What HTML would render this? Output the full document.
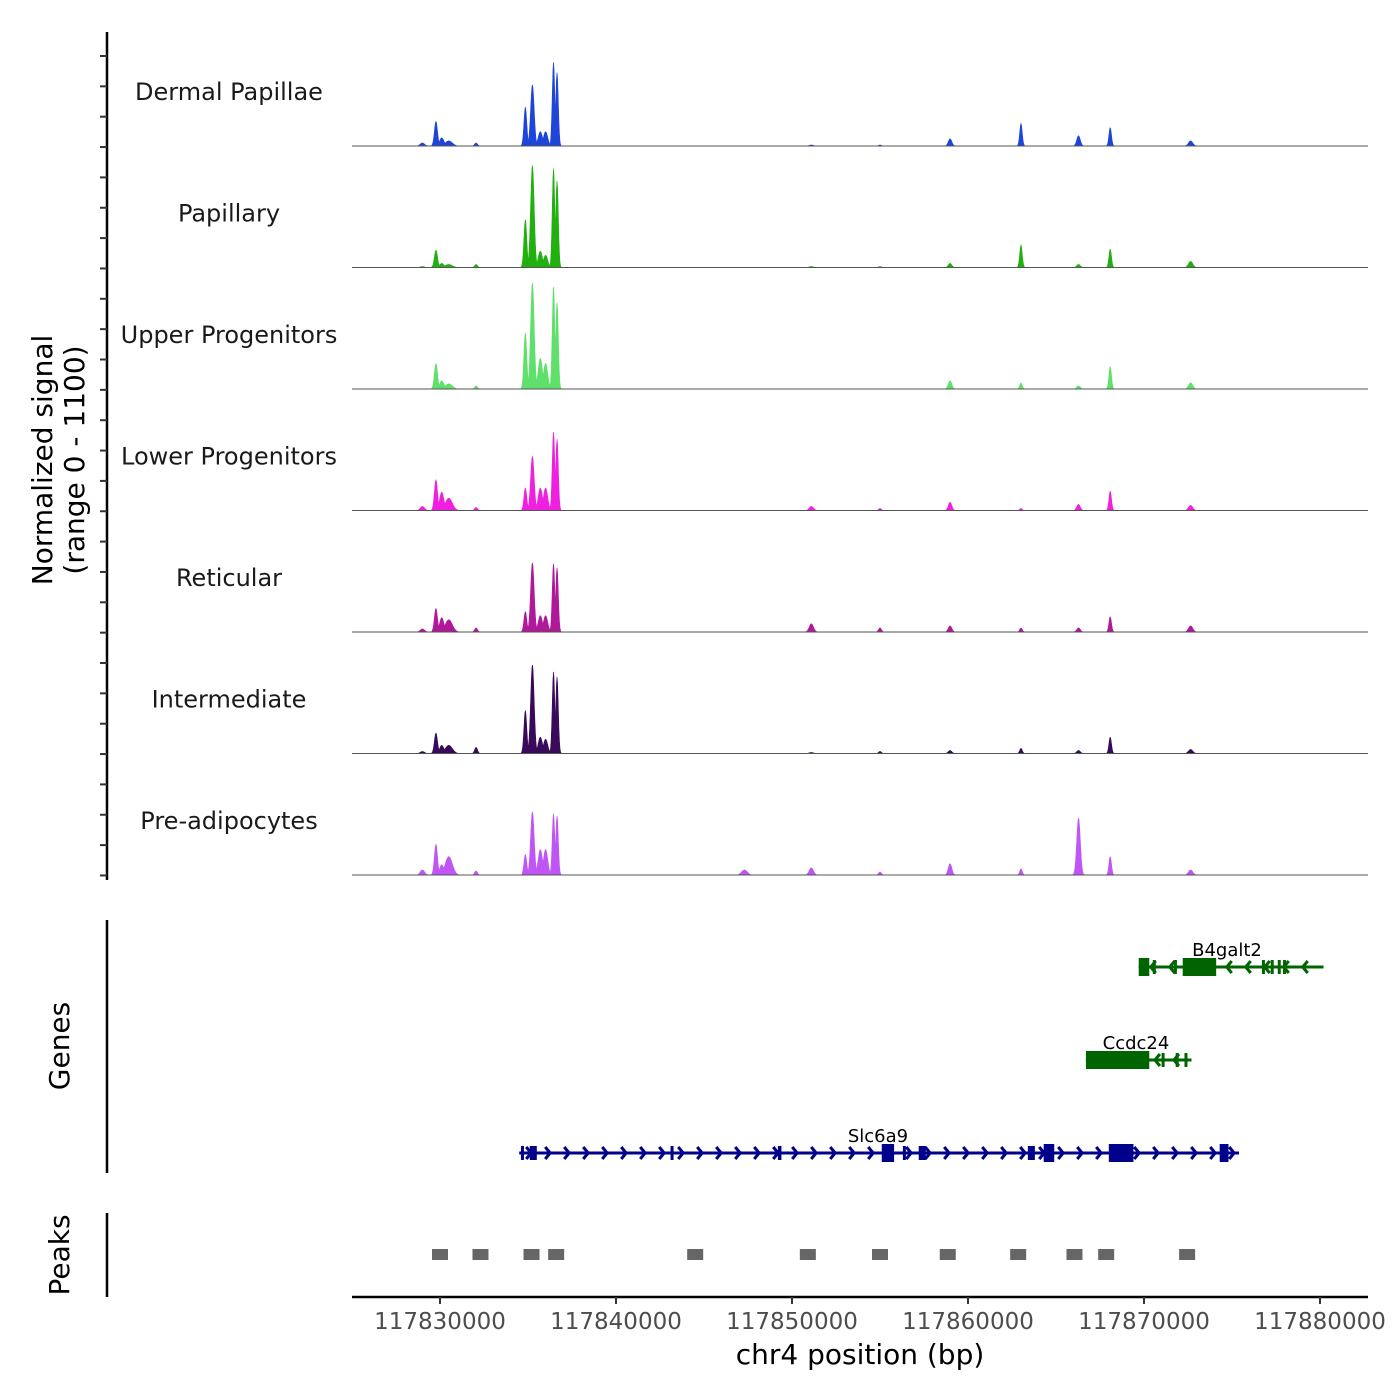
<!DOCTYPE html>
<html><head><meta charset="utf-8">
<style>
body{margin:0;background:#fff;}
svg{display:block;font-family:"DejaVu Sans","Liberation Sans",sans-serif;}
</style></head>
<body>
<svg id="c" width="1400" height="1400" viewBox="0 0 1400 1400" xmlns="http://www.w3.org/2000/svg"></svg>
<script>
// ---- data ----
const trackNames = ["Dermal Papillae","Papillary","Upper Progenitors","Lower Progenitors","Reticular","Intermediate","Pre-adipocytes"];
const trackColors = ["#1f45d8","#22b010","#5ee06a","#f020e0","#b0189a","#3a0a5a","#bf55f5"];
const peakPositions = [117829770,117830100,117830500,117832050,117834850,117835250,117835700,117836000,117836450,117836650,117851100,117855000,117858980,117863010,117866280,117868080,117872650,117847300,117829000];
const peakWidths = [2.2,3,5,2,2,2.5,3,3,1.8,1.8,3,2,2.5,1.8,2.5,1.8,3,4,3];
const sigDermalPapillae = [240,80,50,30,380,600,140,140,820,720,10,10,70,220,100,180,50,0,30];
const sigPapillary = [170,40,30,30,470,1000,160,120,970,850,10,10,40,220,30,180,60,0,10];
const sigUpperProg = [250,80,50,30,550,1040,300,250,1000,850,0,0,80,60,30,220,60,0,0];
const sigLowerProg = [300,180,120,30,220,530,220,220,770,700,40,20,80,20,60,190,50,0,40];
const sigReticular = [230,140,120,40,200,680,160,160,670,630,80,40,60,40,40,150,60,0,30];
const sigIntermediate = [200,80,80,60,420,870,160,140,800,750,10,20,30,50,30,160,40,0,20];
const sigPreAdipo = [300,100,180,40,200,620,250,250,600,580,70,30,110,60,560,180,50,50,50];
const trackSignals = [sigDermalPapillae,sigPapillary,sigUpperProg,sigLowerProg,sigReticular,sigIntermediate,sigPreAdipo];
const xTicks = [117830000,117840000,117850000,117860000,117870000,117880000];
const peakRegions = [117830000,117832300,117835200,117836600,117844500,117850900,117855000,117858850,117862850,117866050,117867850,117872450];
const genes = [
 {name:"Slc6a9",start:117834500,end:117875400,row:2,color:"#00008b",strand:1,
  exons:[[117835100,117835500],[117843100,117843200],[117849200,117849400],[117855100,117855800],[117856300,117856400],[117857200,117857600],[117863400,117863800],[117864300,117864900],[117868000,117869400],[117874300,117874800],[117834600,117834700]]},
 {name:"Ccdc24",start:117866700,end:117872700,row:1,color:"#006400",strand:-1,
  exons:[[117866700,117870300],[117871000,117871100],[117871800,117871900],[117872300,117872400]]},
 {name:"B4galt2",start:117869700,end:117880200,row:0,color:"#006400",strand:-1,
  exons:[[117869700,117870300],[117870500,117870600],[117871700,117871800],[117872200,117874100],[117876700,117876800],[117877200,117877300],[117877600,117877700],[117877900,117878000]]}
];
// ---- scales ----
const X0=117830000, PX0=440, K=0.0176;
const xs = bp => PX0 + (bp-X0)*K;
const trackBase = i => 146 + i*121.5;
const ys = v => v/1000*102;
const NS="http://www.w3.org/2000/svg";
const svg=document.getElementById('c');
function el(t,a,p){const e=document.createElementNS(NS,t);for(const k in a)e.setAttribute(k,a[k]);(p||svg).appendChild(e);return e;}
function txt(s,a,p){const e=el('text',a,p);e.textContent=s;return e;}

const la=el('line',{x1:107,y1:32,x2:107,y2:880,stroke:'#000','stroke-width':2.5});

for(let y=56;y<=880;y+=30.35){el('line',{x1:100,y1:y,x2:107,y2:y,stroke:'#333','stroke-width':2});}
const yt=txt('',{transform:'translate(52,460) rotate(-90)','text-anchor':'middle','font-size':28,fill:'#000'});

el('tspan',{x:0,dy:0},yt).textContent='Normalized signal';
el('tspan',{x:0,dy:32},yt).textContent='(range 0 - 1100)';

trackNames.forEach((nm,i)=>{
  const g=el('g',{});
  
  
  const b=trackBase(i);
  const lab=txt(nm,{x:229,y:b-46,'text-anchor':'middle','font-size':24,fill:'#1a1a1a'},g);
  
  const sig=trackSignals[i];
  let d='M352,'+b;
  for(let x=352;x<=1368;x+=0.5){
    let v=0;
    peakPositions.forEach((p,j)=>{const dd=(x-xs(p))/peakWidths[j];v=Math.max(v,sig[j]*Math.exp(-dd*dd));});
    d+=' L'+x+','+(b-ys(v)).toFixed(2);
  }
  d+=' L1368,'+b+' Z';
  const a=el('path',{d:d,fill:trackColors[i],stroke:trackColors[i],'stroke-width':0.6},g);
  
  el('line',{x1:352,y1:b,x2:1368,y2:b,stroke:'#555','stroke-width':1},g);
});

const ga=el('line',{x1:107,y1:920,x2:107,y2:1173,stroke:'#000','stroke-width':2.5});

const gt=txt('Genes',{transform:'translate(69,1046) rotate(-90)','text-anchor':'middle','font-size':28});

const rowY=[967,1060,1153];
genes.forEach(gn=>{
  const g=el('g',{});
  
  
  const y=rowY[gn.row],x1=xs(gn.start),x2=xs(gn.end);
  el('line',{x1:x1,y1:y,x2:x2,y2:y,stroke:gn.color,'stroke-width':3},g);
  for(let x=x1+12;x<x2-4;x+=19){
    const s=gn.strand*5;
    el('polyline',{points:`${x-s},${y-6} ${x},${y} ${x-s},${y+6}`,fill:'none',stroke:gn.color,'stroke-width':3},g);
  }
  gn.exons.forEach(e=>{
    const w=Math.max(3,xs(e[1])-xs(e[0])), big=(xs(e[1])-xs(e[0]))>8;
    const h=big?18:14;
    el('rect',{x:xs(e[0]),y:y-h/2,width:w,height:h,fill:gn.color},g);
  });
  const lx=gn.row==0?1227:gn.row==1?1136:878;
  txt(gn.name,{x:lx,y:y-11,'text-anchor':'middle','font-size':18,fill:'#000'},g);
});

const pa=el('line',{x1:107,y1:1213,x2:107,y2:1297,stroke:'#000','stroke-width':2.5});

const pt=txt('Peaks',{transform:'translate(69,1255) rotate(-90)','text-anchor':'middle','font-size':28});

peakRegions.forEach(p=>{
  const r=el('rect',{x:xs(p)-8,y:1249,width:16,height:11,fill:'#666'});
  
});

const xa=el('line',{x1:352,y1:1297,x2:1368,y2:1297,stroke:'#000','stroke-width':2.5});

xTicks.forEach(t=>{
  el('line',{x1:xs(t),y1:1297,x2:xs(t),y2:1304,stroke:'#333','stroke-width':2});
  const l=txt(String(t),{x:xs(t),y:1329,'text-anchor':'middle','font-size':23,fill:'#4d4d4d'});
  
});
const xt=txt('chr4 position (bp)',{x:860,y:1364,'text-anchor':'middle','font-size':28,fill:'#000'});

</script>
</body></html>
